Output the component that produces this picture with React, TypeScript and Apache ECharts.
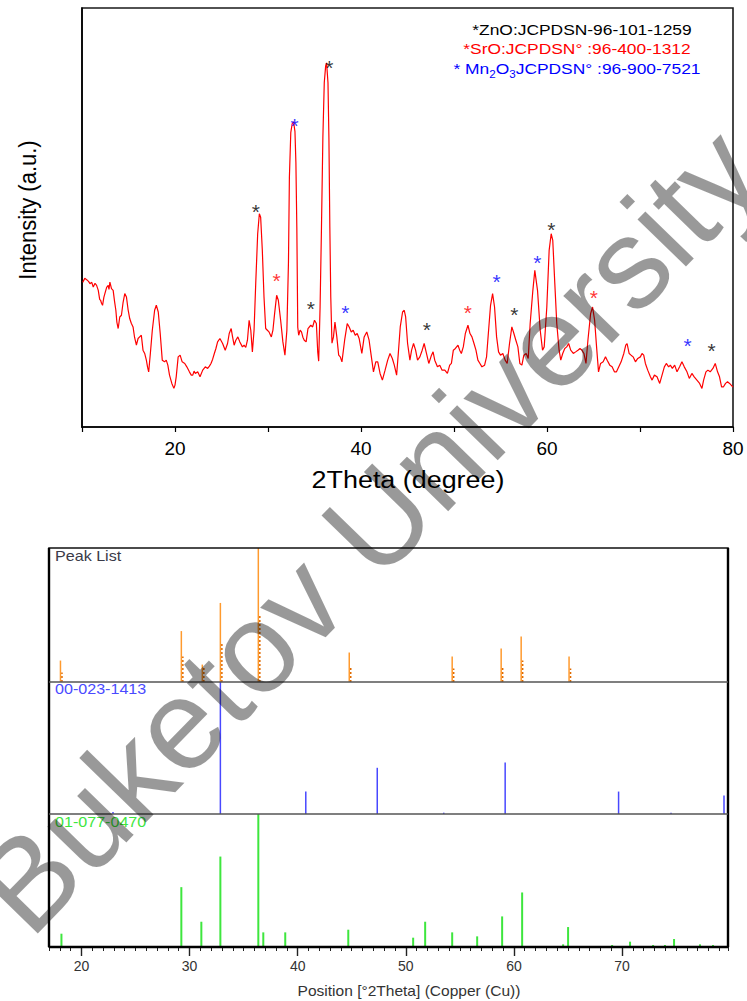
import React, { useEffect, useRef } from "react";
import * as echarts from "echarts";

const FONT = '"Liberation Sans", Arial, Helvetica, sans-serif';

// XRD profile: [2theta (deg), intensity (a.u.)]
const xrdProfile: [number, number][] = [
  [10.07, 145], [10.3, 149], [10.5, 147.7], [10.7, 146], [10.86, 143.7], [11.05, 145], [11.21, 140.3], [11.4, 144],
  [11.57, 142], [11.75, 137], [11.9, 128], [12.0, 127], [12.1, 124], [12.21, 122], [12.35, 130], [12.46, 133.7],
  [12.65, 140], [12.82, 142], [12.9, 138], [13.0, 145.3], [13.17, 138.7], [13.35, 137], [13.5, 126], [13.64, 117],
  [13.75, 105], [13.89, 98.7], [14.06, 110.3], [14.24, 112], [14.42, 125], [14.6, 133.7], [14.78, 130.3], [14.95, 118],
  [15.13, 108.7], [15.3, 104], [15.49, 100.3], [15.65, 90], [15.85, 82], [16.03, 88.7], [16.2, 90.3], [16.38, 92],
  [16.56, 77], [16.74, 73.7], [16.92, 67], [17.05, 60], [17.17, 55.3], [17.35, 73.7], [17.56, 97], [17.81, 117],
  [17.99, 122], [18.2, 115.3], [18.41, 93.7], [18.63, 67], [18.88, 65.3], [19.06, 67], [19.23, 62], [19.41, 52],
  [19.66, 43.7], [19.88, 38.7], [20.0, 42], [20.13, 50.3], [20.34, 70.3], [20.55, 72], [20.77, 65.3], [21.05, 63.7],
  [21.27, 60.3], [21.55, 55.3], [21.75, 52], [21.91, 52], [22.05, 56], [22.19, 53.7], [22.44, 55.3], [22.69, 50.3],
  [22.98, 57], [23.26, 60.3], [23.51, 58.7], [23.7, 61], [23.87, 63.7], [24.05, 68], [24.23, 73.7], [24.4, 78.7],
  [24.58, 85.3], [24.83, 88.7], [25.12, 83.7], [25.4, 77], [25.65, 83.7], [25.83, 93.7], [26.04, 98.7], [26.19, 90.3],
  [26.36, 82], [26.54, 87], [26.76, 90.3], [26.97, 85.3], [27.25, 80.3], [27.43, 82], [27.61, 79.7], [27.79, 87],
  [27.97, 107], [28.15, 97], [28.32, 75.3], [28.5, 97], [28.68, 143.7], [28.89, 193.7], [29.07, 213.7], [29.21, 210.3],
  [29.39, 177], [29.57, 130.3], [29.75, 98.7], [29.93, 97], [30.11, 95.3], [30.36, 90.3], [30.53, 97], [30.71, 113.7],
  [30.93, 132], [31.11, 127], [31.36, 107], [31.6, 85.3], [31.82, 72], [32.03, 97], [32.2, 165], [32.3, 250],
  [32.45, 295], [32.6, 304], [32.75, 306], [32.9, 296], [33.0, 265], [33.1, 200], [33.2, 100], [33.3, 92],
  [33.45, 97], [33.6, 95.3], [33.75, 90], [33.9, 87], [34.1, 85.3], [34.3, 98.7], [34.6, 102], [34.8, 100.3],
  [35.0, 107], [35.2, 103.7], [35.35, 75], [35.45, 66], [35.6, 120], [35.75, 200], [35.9, 290], [36.05, 345],
  [36.2, 362], [36.3, 365], [36.45, 345], [36.55, 290], [36.65, 200], [36.75, 130], [36.88, 84], [37.04, 90.3],
  [37.2, 105.3], [37.4, 90.3], [37.6, 72], [37.77, 70.3], [37.95, 65.3], [38.24, 87], [38.52, 103.7], [38.73, 100.3],
  [38.95, 95.3], [39.16, 97], [39.38, 92], [39.59, 93.7], [39.8, 88.7], [40.09, 73.7], [40.34, 90.3], [40.62, 95.3],
  [40.87, 87], [41.09, 72], [41.34, 55.3], [41.59, 65.3], [41.8, 65.3], [42.05, 53.7], [42.3, 47], [42.59, 57],
  [42.87, 67], [43.12, 73.7], [43.37, 68.7], [43.58, 62], [43.83, 52], [44.01, 73.7], [44.22, 100.3], [44.47, 115.3],
  [44.65, 117], [44.8, 110.3], [45.01, 83.7], [45.26, 67], [45.44, 77], [45.65, 83.7], [45.87, 77], [46.08, 67],
  [46.33, 70.3], [46.58, 77], [46.79, 83.7], [47.04, 73.7], [47.29, 63.7], [47.58, 72], [47.75, 75.3], [47.93, 67],
  [48.22, 60.3], [48.47, 62], [48.72, 57], [49.01, 57], [49.29, 53.7], [49.54, 62], [49.72, 63.7], [49.93, 77],
  [50.15, 78.7], [50.43, 82], [50.61, 77], [50.79, 73.7], [51.0, 80.3], [51.22, 93.7], [51.5, 102], [51.72, 93.7],
  [51.93, 90.3], [52.15, 83.7], [52.36, 77], [52.57, 67], [52.79, 63.7], [53.0, 60.3], [53.29, 62], [53.5, 70.3],
  [53.72, 97], [53.93, 122], [54.15, 133.7], [54.36, 120.3], [54.58, 90.3], [54.79, 75.3], [55.0, 72], [55.25, 73.7],
  [55.5, 67], [55.72, 63.7], [55.97, 83.7], [56.22, 100.3], [56.44, 93.7], [56.65, 87], [56.87, 80.3], [57.08, 63.7],
  [57.3, 62], [57.51, 72], [57.76, 73.7], [57.98, 68.7], [58.19, 103.7], [58.48, 137], [58.69, 157], [58.98, 137],
  [59.27, 97], [59.52, 77], [59.7, 80.3], [59.98, 120.3], [60.23, 177], [60.45, 193.7], [60.62, 187], [60.84, 143.7],
  [61.05, 103.7], [61.3, 77], [61.48, 67], [61.69, 73.7], [61.91, 78.7], [62.12, 80.3], [62.33, 83.7], [62.55, 77],
  [62.83, 73.7], [63.08, 75.3], [63.33, 77], [63.55, 78.7], [63.76, 77], [63.97, 73.7], [64.19, 63.7], [64.4, 87],
  [64.69, 113.7], [64.9, 120.3], [65.12, 107], [65.33, 80.3], [65.54, 55.3], [65.76, 63.7], [66.04, 65.3], [66.29, 70.3],
  [66.47, 67], [66.75, 62], [67.0, 60.3], [67.25, 55.3], [67.47, 55.3], [67.72, 60.3], [67.97, 65.3], [68.26, 73.7],
  [68.47, 82], [68.61, 83.7], [68.83, 73.7], [69.04, 72], [69.26, 70.3], [69.51, 65.3], [69.76, 68.7], [70.04, 70.3],
  [70.22, 73.7], [70.4, 72], [70.58, 63.7], [70.83, 57], [71.12, 50.3], [71.3, 47], [71.55, 52], [71.83, 50.3],
  [72.12, 43.7], [72.37, 52], [72.62, 60.3], [72.83, 63.7], [73.08, 60.3], [73.26, 62], [73.48, 58.7], [73.73, 62],
  [73.98, 55.3], [74.26, 60.3], [74.51, 65.3], [74.76, 60.3], [75.05, 55.3], [75.3, 48.7], [75.58, 53.7], [75.83, 50.3],
  [76.12, 47], [76.41, 43.7], [76.66, 38.7], [76.84, 47], [77.09, 55.3], [77.3, 57], [77.55, 55.3], [77.84, 58.7],
  [78.09, 63.7], [78.34, 55.3], [78.55, 50.3], [78.77, 40.3], [78.98, 40.3], [79.2, 43.7], [79.41, 45.3], [79.63, 43.7],
  [80.0, 40],
];

// Phase markers (asterisks) [2theta, intensity]
const znoStars: [number, number][] = [[28.68, 222], [36.6, 366], [34.6, 125], [47.08, 104], [56.49, 119], [60.48, 204], [77.7, 83]];
const sroStars: [number, number][] = [[30.93, 153], [51.5, 121], [65.04, 136]];
const mn2o3Stars: [number, number][] = [[32.86, 308], [38.31, 121], [54.57, 152], [58.95, 171], [75.13, 88]];

// Peak list (orange)
const peakListPos = [18.06, 29.24, 31.18, 32.85, 36.36, 44.77, 54.29, 58.82, 60.67, 65.1];
const peakListHeight = [16, 38, 13, 59, 100, 22, 19, 25, 34, 19];
const peakListDotted = [7, 19, 12, 29, 50, 11, 10, 11, 16, 10];

// Reference 00-023-1413 (blue)
const refBluePos = [22.92, 32.85, 40.75, 47.36, 53.51, 59.19, 69.68, 74.53, 79.43];
const refBlueHeight = [1.5, 100, 17, 35, 1, 39, 17, 1, 14];

// Reference 01-077-0470 (green)
const refGreenPos = [18.15, 29.24, 31.09, 32.85, 36.36, 36.82, 38.85, 44.68, 50.68, 51.79, 54.29, 56.6, 58.91, 60.76, 64.55, 65.01, 69.08, 70.74, 72.87, 73.97, 74.81, 77.21, 78.41];
const refGreenHeight = [10, 45, 19, 68, 100, 11, 11, 13, 7, 19, 11, 8, 23, 41, 2, 15, 1.5, 4, 1.5, 1.5, 6, 2, 1.5];

const bottomMajor = [20, 30, 40, 50, 60, 70];

function zip(a: number[], b: number[]) {
  return a.map((v, i) => [v, b[i]]);
}

function stick(color: string, width: number, dash: number[] | null, dx: number) {
  return (params: any, api: any) => {
    const x = api.value(0);
    const h = api.value(1);
    const b = api.coord([x, 0]);
    const t = api.coord([x, h]);
    const style: any = { stroke: color, lineWidth: width };
    if (dash) style.lineDash = dash;
    return {
      type: "line",
      shape: { x1: b[0] + dx, y1: b[1], x2: t[0] + dx, y2: t[1] },
      style,
    };
  };
}

function starSeries(data: [number, number][], color: string) {
  return {
    type: "scatter",
    xAxisIndex: 0,
    yAxisIndex: 0,
    data,
    symbolSize: 1,
    itemStyle: { color: "rgba(0,0,0,0)" },
    z: 5,
    label: {
      show: true,
      formatter: "*",
      position: "inside",
      color,
      fontSize: 21,
      fontFamily: FONT,
      offset: [0, 6],
    },
  };
}

function txt(text: string, x: number, y: number, size: number, color: string, align: string, extra: any = {}) {
  return {
    type: "text",
    x,
    y,
    ...extra,
    style: {
      text,
      fill: color,
      font: `${size}px ${FONT}`,
      textAlign: align,
      textVerticalAlign: "middle",
      align,
      verticalAlign: "middle",
    },
  };
}

export default function App() {
  const ref = useRef<HTMLDivElement>(null);

  useEffect(() => {
    if (!ref.current) return;
    const chart = echarts.init(ref.current, null, { renderer: "svg" });
    const hiddenX = (grid: number) => ({
      type: "value",
      gridIndex: grid,
      min: 17,
      max: 79.8,
      show: false,
    });
    const hiddenY = (grid: number) => ({
      type: "value",
      gridIndex: grid,
      min: 0,
      max: 100,
      show: false,
    });

    const option: any = {
      animation: false,
      backgroundColor: "#ffffff",
      grid: [
        { left: 82, top: 8, width: 651, height: 419, show: true, borderColor: "#1a1a1a", borderWidth: 1.6, containLabel: false },
        { left: 49, top: 548, width: 679, height: 134 },
        { left: 49, top: 682, width: 679, height: 132 },
        { left: 49, top: 814, width: 679, height: 133 },
      ],
      xAxis: [
        {
          type: "value",
          gridIndex: 0,
          position: "bottom",
          min: 10,
          max: 80,
          interval: 10,
          axisLine: { show: true, lineStyle: { color: "#000", width: 1.6 } },
          axisTick: { show: true, inside: false, length: 5, lineStyle: { color: "#000", width: 1.2 } },
          axisLabel: {
            show: true,
            margin: 12,
            fontSize: 19,
            fontFamily: FONT,
            color: "#000",
            formatter: (v: number) => (v % 20 === 0 ? String(v) : ""),
          },
          splitLine: { show: false },
        },
        hiddenX(1),
        hiddenX(2),
        {
          type: "value",
          gridIndex: 3,
          position: "bottom",
          min: 17,
          max: 79.8,
          interval: 1,
          axisLine: { show: false },
          axisTick: { show: true, inside: false, length: 4, lineStyle: { color: "#222", width: 1 } },
          axisLabel: { show: false },
          splitLine: { show: false },
        },
        {
          type: "value",
          gridIndex: 3,
          position: "bottom",
          offset: 0,
          min: 17,
          max: 79.8,
          axisLine: { show: false },
          axisTick: { show: true, inside: false, length: 9, customValues: bottomMajor, lineStyle: { color: "#222", width: 1.4 } },
          axisLabel: {
            show: true,
            customValues: bottomMajor,
            margin: 12,
            fontSize: 14,
            fontFamily: FONT,
            color: "#333",
          },
          splitLine: { show: false },
        },
      ],
      yAxis: [
        {
          type: "value",
          gridIndex: 0,
          min: 0,
          max: 420,
          axisLine: { show: true, lineStyle: { color: "#000", width: 1.6 } },
          axisTick: { show: false },
          axisLabel: { show: false },
          splitLine: { show: false },
        },
        hiddenY(1),
        hiddenY(2),
        hiddenY(3),
      ],
      series: [
        {
          type: "line",
          xAxisIndex: 0,
          yAxisIndex: 0,
          data: xrdProfile,
          showSymbol: false,
          symbol: "none",
          lineStyle: { color: "#ff0000", width: 1.2 },
          z: 3,
        },
        starSeries(znoStars, "#000000"),
        starSeries(sroStars, "#ff0000"),
        starSeries(mn2o3Stars, "#0000ff"),
        {
          type: "custom",
          xAxisIndex: 1,
          yAxisIndex: 1,
          data: zip(peakListPos, peakListHeight),
          encode: { x: 0, y: 1 },
          renderItem: stick("#ff9a2e", 1.5, null, 0),
          clip: false,
        },
        {
          type: "custom",
          xAxisIndex: 1,
          yAxisIndex: 1,
          data: zip(peakListPos, peakListDotted),
          encode: { x: 0, y: 1 },
          renderItem: stick("#e06a00", 1.5, [2, 2], 1.5),
          clip: false,
        },
        {
          type: "custom",
          xAxisIndex: 2,
          yAxisIndex: 2,
          data: zip(refBluePos, refBlueHeight),
          encode: { x: 0, y: 1 },
          renderItem: stick("#4848ff", 1.5, null, 0),
          clip: false,
        },
        {
          type: "custom",
          xAxisIndex: 3,
          yAxisIndex: 3,
          data: zip(refGreenPos, refGreenHeight),
          encode: { x: 0, y: 1 },
          renderItem: stick("#3ee63e", 2, null, 0),
          clip: false,
        },
      ],
      graphic: [
        {
          type: "text",
          x: 28,
          y: 210,
          rotation: Math.PI / 2,
          scaleY: 1.12,
          style: {
            text: "Intensity (a.u.)",
            fill: "#000",
            font: `22px ${FONT}`,
            textAlign: "center",
            textVerticalAlign: "middle",
            align: "center",
            verticalAlign: "middle",
          },
        },
        txt("2Theta (degree)", 408, 480, 23, "#000", "center", { scaleX: 1.17 }),
        txt("*ZnO:JCPDSN-96-101-1259", 582, 29, 15, "#000", "center", { scaleX: 1.16 }),
        txt("*SrO:JCPDSN° :96-400-1312", 577, 48, 15, "#ff0000", "center", { scaleX: 1.16 }),
        {
          type: "text",
          x: 577,
          y: 68,
          scaleX: 1.16,
          style: {
            text: "{a|* Mn}{s|2}{a|O}{s|3}{a|JCPDSN° :96-900-7521}",
            textAlign: "center",
            textVerticalAlign: "middle",
            align: "center",
            verticalAlign: "middle",
            fill: "#0000ff",
            rich: {
              a: { fontSize: 15, fontFamily: FONT, fill: "#0000ff", lineHeight: 22, verticalAlign: "middle" },
              s: { fontSize: 10, fontFamily: FONT, fill: "#0000ff", lineHeight: 10, verticalAlign: "bottom" },
            },
          },
        },
        {
          type: "rect",
          shape: { x: 49, y: 548, width: 679, height: 399 },
          style: { fill: "none", stroke: "#111", lineWidth: 1.6 },
          z: 10,
        },
        { type: "line", shape: { x1: 49, y1: 548, x2: 49, y2: 947 }, style: { stroke: "#000", lineWidth: 2.4 }, z: 10 },
        { type: "line", shape: { x1: 728, y1: 548, x2: 728, y2: 947 }, style: { stroke: "#000", lineWidth: 2.4 }, z: 10 },
        { type: "line", shape: { x1: 49, y1: 947, x2: 728, y2: 947 }, style: { stroke: "#000", lineWidth: 2.4 }, z: 10 },
        { type: "line", shape: { x1: 49, y1: 682, x2: 728, y2: 682 }, style: { stroke: "#555", lineWidth: 1.4 }, z: 10 },
        { type: "line", shape: { x1: 49, y1: 814, x2: 728, y2: 814 }, style: { stroke: "#555", lineWidth: 1.4 }, z: 10 },
        txt("Peak List", 55, 556, 14, "#3a3a48", "left", { scaleX: 1.15, z: 11 }),
        txt("00-023-1413", 55, 689, 14, "#4a4aff", "left", { scaleX: 1.15, z: 11 }),
        txt("01-077-0470", 55, 822, 14, "#3ee63e", "left", { scaleX: 1.15, z: 11 }),
        txt("Position [°2Theta] (Copper (Cu))", 409, 991, 14, "#333", "center", { scaleX: 1.11 }),
        {
          type: "text",
          x: 368,
          y: 530,
          rotation: 0.8,
          z: 100,
          style: {
            text: "Buketov University",
            fill: "rgba(0,0,0,0.4)",
            font: `128px ${FONT}`,
            textAlign: "center",
            textVerticalAlign: "middle",
            align: "center",
            verticalAlign: "middle",
          },
        },
      ],
    };

    chart.setOption(option);
    return () => {
      chart.dispose();
    };
  }, []);

  return (
    <div
      ref={ref}
      style={{ position: "fixed", left: 0, top: 0, width: 747, height: 1001, background: "#fff" }}
    />
  );
}
